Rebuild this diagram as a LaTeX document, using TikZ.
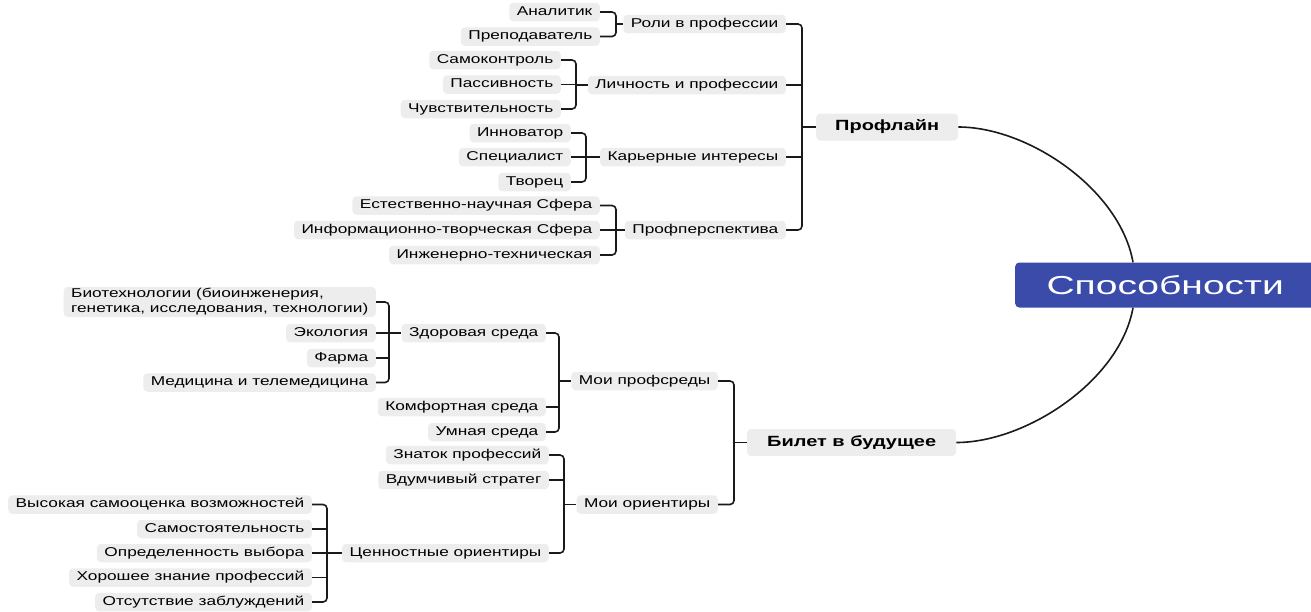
\documentclass[tikz,border=0pt]{standalone}
\usepackage{fontspec}
\setmainfont[FakeStretch=1.35]{Liberation Sans}
\newfontfamily\rootfont[FakeStretch=1.5]{Liberation Sans}
\definecolor{boxgray}{HTML}{EDEDED}
\definecolor{rootblue}{HTML}{3B4BAA}
\definecolor{linkcol}{HTML}{1A1A1A}
\tikzset{
  box/.style={fill=boxgray, rounded corners=4pt, inner xsep=7.5pt, inner ysep=0pt,
    font=\fontsize{12.8}{15}\selectfont},
  leaf/.style={box, anchor=east, minimum height=18.5pt, text height=9.2pt, text depth=2.7pt},
  hub/.style={box, anchor=west, minimum height=27pt, inner xsep=19pt, text height=10.5pt,
    text depth=3pt, font=\fontsize{14.8}{17}\selectfont\bfseries},
  link/.style={draw=linkcol, line width=1.6pt},
  fork/.style={link, rounded corners=4pt},
}
\begin{document}
\begin{tikzpicture}[x=1pt, y=-1pt]
  \useasboundingbox (0,0) rectangle (1311,611);
  % x of the vertical bars
  \coordinate (vroli) at (616,0);
  \coordinate (vlich) at (576,0);
  \coordinate (vkar) at (586,0);
  \coordinate (vpersp) at (616,0);
  \coordinate (vprof) at (802,0);
  \coordinate (vbio) at (389,0);
  \coordinate (vprofsr) at (559,0);
  \coordinate (vorient) at (564,0);
  \coordinate (vcenn) at (327,0);
  \coordinate (vbil) at (734,0);
  % upper branch
  \node[leaf] (an) at (600,12) {Аналитик};
  \node[leaf] (prep) at (600,36.5) {Преподаватель};
  \node[leaf] (samo) at (561,60) {Самоконтроль\hspace{8pt}};
  \node[leaf] (pass) at (561,84.5) {Пассивность};
  \node[leaf] (chuv) at (561,109) {Чувствительность};
  \node[leaf] (inn) at (571,133) {Инноватор};
  \node[leaf] (spec) at (571,157) {Специалист};
  \node[leaf] (tvor) at (571,182) {Творец};
  \node[leaf] (estn) at (600,205.5) {Естественно-научная Сфера\hspace{8pt}};
  \node[leaf] (info) at (600,230) {Информационно-творческая Сфера\hspace{8pt}};
  \node[leaf] (inzh) at (600,255) {Инженерно-техническая};
  \node[leaf] (roli) at (786,24) {Роли в профессии};
  \node[leaf] (lich) at (786,85) {Личность и профессии};
  \node[leaf] (kar) at (786,157) {Карьерные интересы};
  \node[leaf] (persp) at (786,230) {Профперспектива};
  \node[hub] (prof) at (816,127) {Профлайн};
  % lower branch
  \node[box, anchor=east, minimum height=30pt, align=left] (bio) at (376,302)
    {Биотехнологии (биоинженерия,\\генетика, исследования, технологии)};
  \node[leaf] (eko) at (376,333) {Экология};
  \node[leaf] (farma) at (376,358) {Фарма};
  \node[leaf] (med) at (376,382.5) {Медицина и телемедицина};
  \node[leaf] (zdor) at (546,333) {Здоровая среда};
  \node[leaf] (komf) at (546,407) {Комфортная среда};
  \node[leaf] (umn) at (546,432) {Умная среда};
  \node[leaf] (profsr) at (718,381) {Мои профсреды};
  \node[leaf] (znat) at (549,455) {Знаток профессий};
  \node[leaf] (vdum) at (549,480) {Вдумчивый стратег};
  \node[leaf] (cenn) at (549,553) {Ценностные ориентиры};
  \node[leaf] (orient) at (718,504.5) {Мои ориентиры};
  \node[leaf] (vys) at (312,504.5) {Высокая самооценка возможностей};
  \node[leaf] (samost) at (312,529) {Самостоятельность};
  \node[leaf] (opr) at (312,553) {Определенность выбора};
  \node[leaf] (hor) at (312,577.5) {Хорошее знание профессий};
  \node[leaf] (ots) at (312,602) {Отсутствие заблуждений};
  \node[hub, inner xsep=20pt] (bilet) at (747,442.5) {Билет в будущее};
  % root
  \node[anchor=west, fill=rootblue, text=white, rounded corners=4pt, minimum width=300pt,
    minimum height=45pt, font=\rootfont\fontsize{26}{30}\selectfont] (root) at (1015,285) {Способности};
  % forks: first and last child
  \foreach \a/\b/\v in {an/prep/vroli, samo/chuv/vlich, inn/tvor/vkar, estn/inzh/vpersp,
      roli/persp/vprof, bio/med/vbio, zdor/umn/vprofsr, znat/cenn/vorient, vys/ots/vcenn,
      profsr/orient/vbil}
    \draw[fork] (\a.east) -- (\a.east -| \v) -- (\b.east -| \v) -- (\b.east);
  % children in between
  \foreach \n/\v in {pass/vlich, spec/vkar, info/vpersp, lich/vprof, kar/vprof, eko/vbio,
      farma/vbio, komf/vprofsr, vdum/vorient, samost/vcenn, opr/vcenn, hor/vcenn}
    \draw[link] (\n.east) -- (\n.east -| \v);
  % parents
  \foreach \v/\p in {vroli/roli, vlich/lich, vkar/kar, vpersp/persp, vprof/prof, vbio/zdor,
      vprofsr/profsr, vorient/orient, vcenn/cenn, vbil/bilet}
    \draw[link] (\v |- \p.west) -- (\p.west);
  % curves into the root
  \draw[link] (prof.east) .. controls +(70,0) and +(-13,-73) .. ([xshift=118pt]root.north west);
  \draw[link] ([xshift=118pt]root.south west) .. controls +(-13,73) and +(70,0) .. (bilet.east);
\end{tikzpicture}
\end{document}
